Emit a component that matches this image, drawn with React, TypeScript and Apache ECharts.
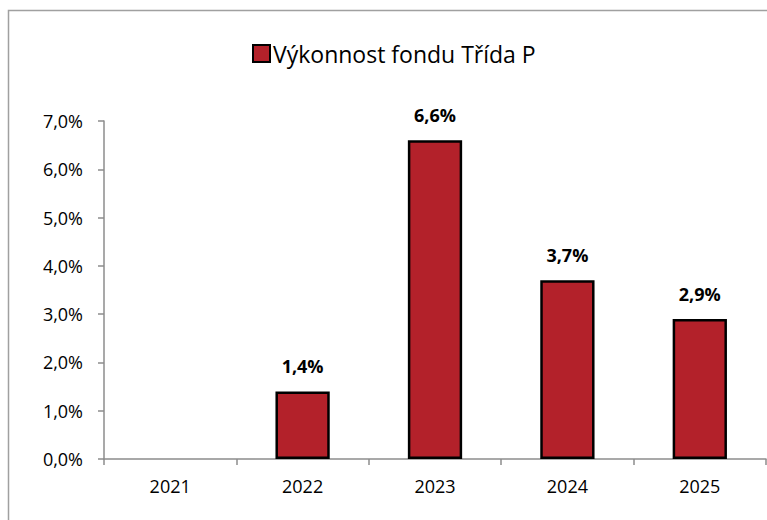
import React, { useEffect, useRef } from "react";
import * as echarts from "echarts";

const categories = ["2021", "2022", "2023", "2024", "2025"];
const values: (number | null)[] = [null, 1.4, 6.6, 3.7, 2.9];
const seriesName = "Výkonnost fondu Třída P";
const yTicks = [0, 1, 2, 3, 4, 5, 6, 7];

const fmt = (v: number) => v.toFixed(1).replace(".", ",") + "%";

export default function App() {
  const ref = useRef<HTMLDivElement>(null);
  useEffect(() => {
    if (!ref.current) return;
    const chart = echarts.init(ref.current, null, { renderer: "svg" });
    const font = "'Open Sans', 'Noto Sans', sans-serif";
    chart.setOption({
      animation: false,
      backgroundColor: "#ffffff",
      textStyle: { fontFamily: font },
      graphic: [
        {
          type: "rect",
          shape: { x: 8.5, y: 10.5, width: 800, height: 600 },
          style: { fill: "none", stroke: "#a0a0a0", lineWidth: 1.5 },
          silent: true,
        },
      ],
      legend: {
        show: true,
        left: 252,
        top: 42,
        padding: 0,
        itemWidth: 17,
        itemHeight: 17,
        icon: "rect",
        data: [seriesName],
        textStyle: { fontSize: 23, color: "#000", fontFamily: font, padding: [0, 0, 0, -2] },
        itemStyle: { borderColor: "#000", borderWidth: 2 },
      },
      grid: { left: 104, right: 1, top: 121, bottom: 61 },
      xAxis: {
        type: "category",
        data: categories,
        axisLine: { lineStyle: { color: "#8c8c8c", width: 1.5 } },
        axisTick: { show: true, length: 6, lineStyle: { color: "#8c8c8c", width: 1.5 } },
        axisLabel: { color: "#000", fontSize: 18, margin: 18, fontFamily: font },
      },
      yAxis: {
        type: "value",
        min: yTicks[0],
        max: yTicks[yTicks.length - 1],
        interval: 1,
        axisLine: { show: true, lineStyle: { color: "#8c8c8c", width: 1.5 } },
        axisTick: { show: true, length: 6, lineStyle: { color: "#8c8c8c", width: 1.5 } },
        splitLine: { show: false },
        axisLabel: {
          color: "#000",
          fontSize: 18,
          margin: 21,
          fontFamily: font,
          formatter: (v: number) => fmt(v),
        },
      },
      series: [
        {
          name: seriesName,
          type: "bar",
          data: values,
          barWidth: "41%",
          itemStyle: { color: "#B3212A", borderColor: "#000", borderWidth: 2.5 },
          label: {
            show: true,
            position: "top",
            distance: 16,
            color: "#000",
            fontWeight: "bold",
            fontSize: 18,
            fontFamily: font,
            formatter: (p: any) => (p.value == null ? "" : fmt(p.value)),
          },
        },
      ],
    });
    return () => chart.dispose();
  }, []);
  return (
    <div
      ref={ref}
      style={{ position: "fixed", left: 0, top: 0, width: 767, height: 520 }}
    />
  );
}
